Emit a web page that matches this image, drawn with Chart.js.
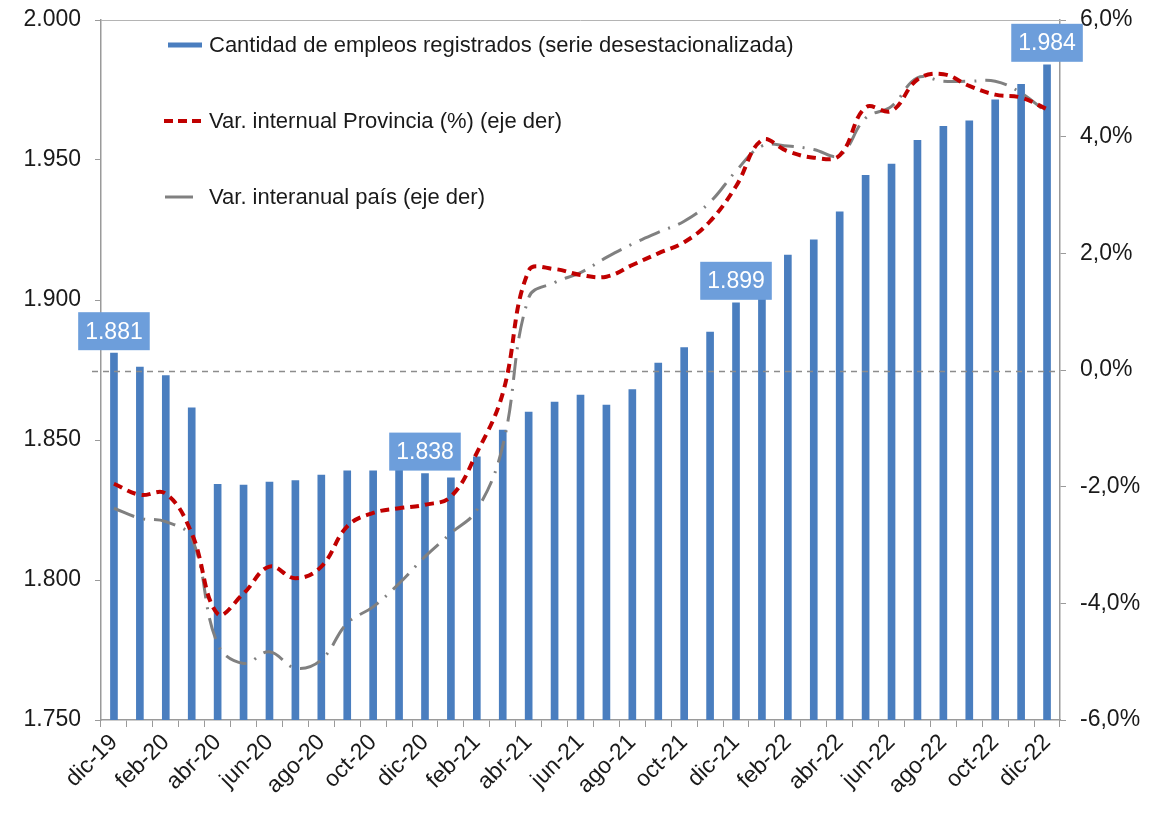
<!DOCTYPE html>
<html>
<head>
<meta charset="utf-8">
<script src="https://cdn.jsdelivr.net/npm/chart.js@4.4.0/dist/chart.umd.min.js"></script>
<style>
  html, body { margin: 0; padding: 0; background: #fff; }
</style>
</head>
<body>
<canvas id="chart" width="1149" height="814"></canvas>
<script>
// months dic-19 .. dic-22
const months = [
  "dic-19", "ene-20", "feb-20", "mar-20", "abr-20", "may-20", "jun-20", "jul-20", "ago-20", "sep-20", "oct-20", "nov-20",
  "dic-20", "ene-21", "feb-21", "mar-21", "abr-21", "may-21", "jun-21", "jul-21", "ago-21", "sep-21", "oct-21", "nov-21",
  "dic-21", "ene-22", "feb-22", "mar-22", "abr-22", "may-22", "jun-22", "jul-22", "ago-22", "sep-22", "oct-22", "nov-22",
  "dic-22"
];

// employment, thousands (left axis)
const empleos = [
  1881, 1876, 1873, 1861.5, 1834.2, 1833.9, 1835, 1835.5, 1837.5, 1839, 1839, 1839.5,
  1838, 1836.5, 1844, 1853.5, 1860, 1863.5, 1866, 1862.5, 1868, 1877.5, 1883, 1888.5,
  1899, 1906, 1916, 1921.5, 1931.5, 1944.5, 1948.5, 1957, 1962, 1964, 1971.5, 1977,
  1984
];

// year-on-year change, % (right axis)
const varProvincia = [
  -1.95, -2.14, -2.12, -2.8, -4.18, -3.83, -3.37, -3.57, -3.37, -2.68, -2.45, -2.37,
  -2.31, -2.17, -1.42, -0.4, 1.70, 1.73, 1.63, 1.60, 1.80, 2.0, 2.19, 2.55,
  3.15, 3.94, 3.75, 3.64, 3.68, 4.50, 4.44, 4.98, 5.07, 4.87, 4.72, 4.67,
  4.47
];
const varPais = [
  -2.37, -2.54, -2.6, -2.88, -4.7, -5.03, -4.83, -5.11, -4.97, -4.34, -4.06, -3.66,
  -3.2, -2.8, -2.4, -1.3, 1.24, 1.50, 1.67, 1.93, 2.16, 2.36, 2.55, 2.88,
  3.41, 3.84, 3.84, 3.78, 3.68, 4.32, 4.52, 5.01, 4.95, 4.95, 4.95, 4.75,
  4.41
];

// bars that carry a value box (each december)
const labeledIdx = [0, 12, 24, 36];

const seriesNames = [
  "Cantidad de empleos registrados (serie desestacionalizada)",
  "Var. internual Provincia (%) (eje der)",
  "Var. interanual país (eje der)"
];

const FONT = "'Liberation Sans', Arial, sans-serif";
const BLUE = "#4a7ebf";
const BOX = "#6d9edb";
const RED = "#c00000";
const GREY = "#808080";
const AXIS = "#9a9a9a";

function fmtMiles(v) {
  const n = Math.round(v);
  return Math.floor(n / 1000) + "." + String(n % 1000).padStart(3, "0");
}

function fmtPct(v) {
  return v.toFixed(1).replace(".", ",") + "%";
}

// keep the plot box fixed regardless of label overhang
function fixY(width) {
  return function (s) {
    s.width = width;
    s.paddingTop = 0;
    s.paddingBottom = 0;
  };
}

const extras = {
  id: "extras",
  afterDatasetsDraw(chart) {
    const ctx = chart.ctx;
    const area = chart.chartArea;
    const y0 = chart.scales.y1.getPixelForValue(0);
    ctx.save();
    // top border of the plot
    ctx.strokeStyle = "#b4b4b4";
    ctx.lineWidth = 1;
    ctx.beginPath();
    ctx.moveTo(area.left, area.top + 0.5);
    ctx.lineTo(area.right, area.top + 0.5);
    ctx.stroke();
    // zero reference line
    ctx.strokeStyle = "#8c8c8c";
    ctx.lineWidth = 1.5;
    ctx.setLineDash([6, 5]);
    ctx.beginPath();
    ctx.moveTo(area.left - 9, y0 + 1.5);
    ctx.lineTo(area.right, y0 + 1.5);
    ctx.stroke();
    ctx.restore();
  },
  afterDraw(chart) {
    const ctx = chart.ctx;
    const meta = chart.getDatasetMeta(0);
    ctx.save();
    // value boxes
    ctx.font = "23px " + FONT;
    ctx.textAlign = "center";
    ctx.textBaseline = "middle";
    labeledIdx.forEach(function (i) {
      const bar = meta.data[i];
      const txt = fmtMiles(empleos[i]);
      const w = ctx.measureText(txt).width + 14;
      const h = 38;
      const bottom = bar.y - 3;
      ctx.fillStyle = BOX;
      ctx.fillRect(bar.x - w / 2, bottom - h, w, h);
      ctx.fillStyle = "#ffffff";
      ctx.fillText(txt, bar.x, bottom - h / 2 + 1);
    });

    // legend
    ctx.textAlign = "left";
    ctx.font = "22px " + FONT;
    const tx = 209;
    const rows = [45, 121, 197];

    ctx.fillStyle = BLUE;
    ctx.fillRect(168, rows[0] - 2.5, 34, 5);

    ctx.strokeStyle = RED;
    ctx.lineWidth = 4;
    ctx.setLineDash([9, 5]);
    ctx.beginPath();
    ctx.moveTo(164, rows[1]);
    ctx.lineTo(206, rows[1]);
    ctx.stroke();

    ctx.strokeStyle = GREY;
    ctx.lineWidth = 3;
    ctx.setLineDash([]);
    ctx.beginPath();
    ctx.moveTo(165, rows[2]);
    ctx.lineTo(193, rows[2]);
    ctx.stroke();

    ctx.fillStyle = "#1a1a1a";
    seriesNames.forEach(function (name, k) {
      ctx.fillText(name, tx, rows[k] + 1);
    });
    ctx.restore();
  }
};

const ctx = document.getElementById("chart").getContext("2d");
new Chart(ctx, {
  type: "bar",
  data: {
    labels: months,
    datasets: [
      {
        type: "bar",
        label: seriesNames[0],
        data: empleos,
        backgroundColor: BLUE,
        barThickness: 7,
        yAxisID: "y",
        order: 2
      },
      {
        type: "line",
        label: seriesNames[1],
        data: varProvincia,
        borderColor: RED,
        borderWidth: 4,
        borderDash: [9, 6],
        pointRadius: 0,
        tension: 0.4,
        fill: false,
        yAxisID: "y1",
        order: 0
      },
      {
        type: "line",
        label: seriesNames[2],
        data: varPais,
        borderColor: GREY,
        borderWidth: 3,
        borderDash: [22, 9, 2, 9],
        pointRadius: 0,
        tension: 0.4,
        fill: false,
        yAxisID: "y1",
        order: 1
      }
    ]
  },
  options: {
    responsive: false,
    animation: false,
    devicePixelRatio: 1,
    layout: {
      padding: { top: 20, right: 0, bottom: 0, left: 0 }
    },
    plugins: {
      legend: { display: false },
      tooltip: { enabled: false }
    },
    scales: {
      x: {
        offset: true,
        grid: {
          offset: true,
          drawOnChartArea: false,
          drawTicks: true,
          tickLength: 7,
          color: AXIS
        },
        border: { color: AXIS, width: 1.5 },
        ticks: {
          autoSkip: false,
          minRotation: 45,
          maxRotation: 45,
          padding: 2,
          color: "#1a1a1a",
          font: { family: FONT, size: 23 },
          callback: function (v, i) {
            return i % 2 === 0 ? months[i] : "";
          }
        },
        afterFit: function (s) {
          s.height = 94;
          s.paddingLeft = 0;
          s.paddingRight = 0;
        }
      },
      y: {
        position: "left",
        min: 1750,
        max: 2000,
        grid: {
          drawOnChartArea: false,
          drawTicks: true,
          tickLength: 6,
          color: AXIS
        },
        border: { color: AXIS, width: 1.5 },
        ticks: {
          stepSize: 50,
          padding: 14,
          color: "#1a1a1a",
          font: { family: FONT, size: 23 },
          callback: function (v) { return fmtMiles(v); }
        },
        afterFit: fixY(101)
      },
      y1: {
        position: "right",
        min: -6,
        max: 6,
        grid: {
          drawOnChartArea: false,
          drawTicks: true,
          tickLength: 6,
          color: AXIS
        },
        border: { color: AXIS, width: 1.5 },
        ticks: {
          stepSize: 2,
          padding: 14,
          color: "#1a1a1a",
          font: { family: FONT, size: 23 },
          callback: function (v) { return fmtPct(v); }
        },
        afterFit: fixY(89)
      }
    }
  },
  plugins: [extras]
});
</script>
</body>
</html>
